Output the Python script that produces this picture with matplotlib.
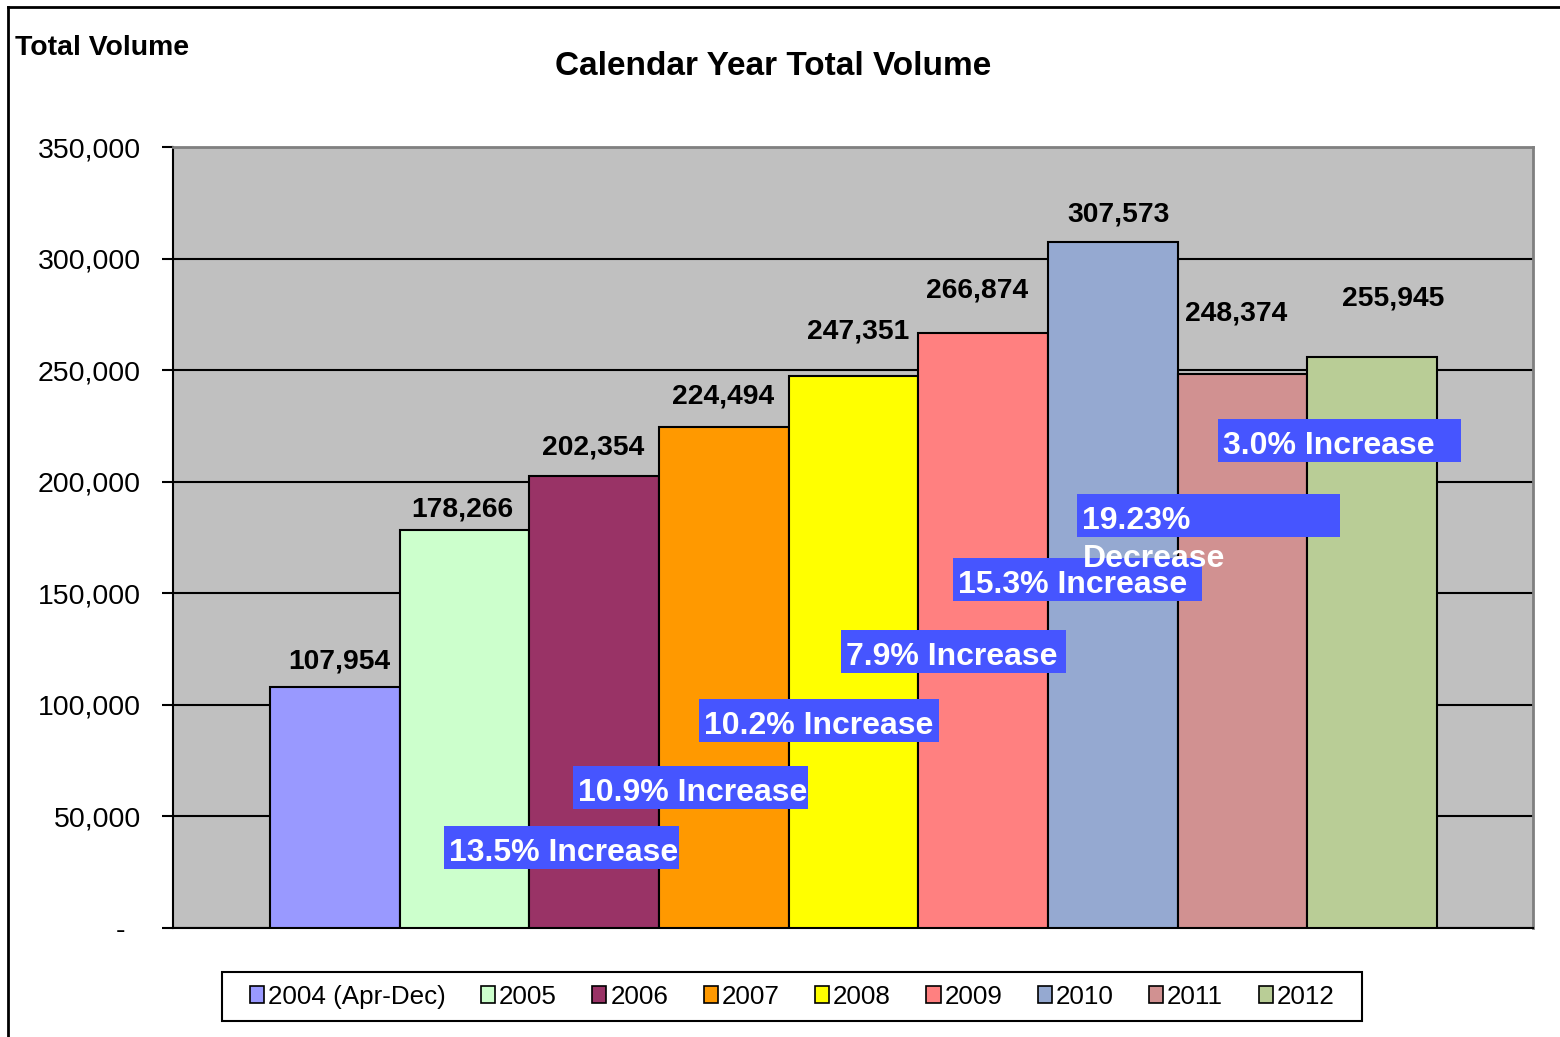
import matplotlib.pyplot as plt
from matplotlib.patches import Patch, Rectangle
from matplotlib.lines import Line2D
from matplotlib.ticker import FuncFormatter

plt.rcParams['font.family'] = ['Liberation Sans', 'DejaVu Sans']

years = ['2004 (Apr-Dec)', '2005', '2006', '2007', '2008', '2009', '2010', '2011', '2012']
volumes = [107954, 178266, 202354, 224494, 247351, 266874, 307573, 248374, 255945]
bar_colors = ['#9999FF', '#CCFFCC', '#993366', '#FF9900', '#FFFF00',
              '#FF8080', '#95A9D1', '#D19191', '#B9CD96']
change_labels = ['13.5% Increase', '10.9% Increase', '10.2% Increase', '7.9% Increase',
                 '15.3% Increase', '19.23%\nDecrease', '3.0% Increase']

# label offsets (pixels) for the value labels, as dragged in the original
val_dx = [4, -2, -1, -1, 5, -6, 6, -6, 21]
val_dy = [26, 21, 29, 31, 45, 42, 27, 60, 58]
# change boxes in axes fraction: x0, y0, width
box_pos = [(0.1993, 0.0755, 0.1728), (0.2941, 0.1524, 0.1728), (0.3868, 0.2382, 0.1765),
           (0.4912, 0.3265, 0.1654), (0.5735, 0.4187, 0.1831), (0.6647, 0.5006, 0.1934),
           (0.7684, 0.5967, 0.1787)]
box_h = 0.0551

fig = plt.figure(figsize=(15.6, 10.37), dpi=100)
ax = fig.add_axes([0.1109, 0.1051, 0.8718, 0.7531])
ax.set_facecolor('#C0C0C0')

x = list(range(len(years)))
bars = ax.bar(x, volumes, width=1.0, color=bar_colors, edgecolor='black', linewidth=1.5, zorder=3)
ax.set_xlim(-1.248, 9.24)
ax.set_ylim(0, 350000)
ax.set_yticks(range(0, 350001, 50000))
ax.yaxis.set_major_formatter(FuncFormatter(lambda v, p: '-  ' if v == 0 else f'{int(v):,}'))
ax.set_xticks([])
ax.tick_params(axis='y', length=8, width=1.5, pad=15, labelsize=20.5)
ax.grid(axis='y', color='black', linewidth=1.5, zorder=1)
for s in ['top', 'right']:
    ax.spines[s].set_color('#808080')
    ax.spines[s].set_linewidth(2)
for s in ['left', 'bottom']:
    ax.spines[s].set_color('black')
    ax.spines[s].set_linewidth(1.5)

for i, b in enumerate(bars):
    ax.annotate(f'{volumes[i]:,}', (b.get_x() + b.get_width() / 2, b.get_height()),
                xytext=(val_dx[i], val_dy[i]), textcoords='offset pixels',
                ha='center', va='center', fontsize=20.3, fontweight='bold', zorder=5)

for (x0, y0, w) in box_pos:
    ax.add_patch(Rectangle((x0, y0), w, box_h, transform=ax.transAxes,
                           facecolor='#4655FF', edgecolor='none', zorder=6))
for (x0, y0, w), lab in zip(box_pos, change_labels):
    lines = lab.split('\n')
    for k, ln in enumerate(lines):
        ax.text(x0 + 0.004, y0 + box_h / 2 - 0.007 - k * 0.049, ln, transform=ax.transAxes,
                ha='left', va='center', color='white', fontsize=23, fontweight='bold', zorder=7)

fig.text(0.0096, 0.9537, 'Total Volume', fontsize=20.4, fontweight='bold', ha='left', va='center')
fig.text(0.4955, 0.9354, 'Calendar Year Total Volume', fontsize=24, fontweight='bold',
         ha='center', va='center')

# legend frame drawn separately so the padding can match
fig.add_artist(Rectangle((222 / 1560, 1 - 1021 / 1037), 1140 / 1560, 49 / 1037,
                         transform=fig.transFigure, facecolor='white', edgecolor='black',
                         linewidth=1.5))
handles = [Patch(facecolor=c, edgecolor='black', linewidth=1.2) for c in bar_colors]
leg = fig.legend(handles, years, loc='center', bbox_to_anchor=(0.5077, 0.039), ncol=9,
                 fontsize=18.7, frameon=False, handlelength=0.55,
                 handleheight=0.65, handletextpad=0.15, columnspacing=1.36,
                 borderpad=0.45, borderaxespad=0)

# outer chart border (top and left visible)
fig.add_artist(Line2D([8 / 1560, 1], [1 - 7 / 1037, 1 - 7 / 1037], transform=fig.transFigure,
                      color='black', linewidth=2))
fig.add_artist(Line2D([8 / 1560, 8 / 1560], [0, 1 - 7 / 1037], transform=fig.transFigure,
                      color='black', linewidth=2))

plt.savefig('out.png', dpi=100)
